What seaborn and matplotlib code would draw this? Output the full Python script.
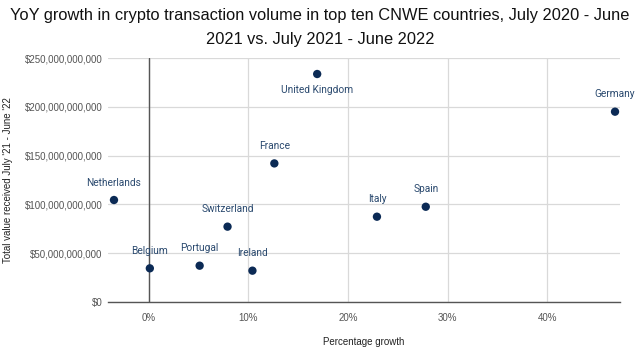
import matplotlib
matplotlib.use("Agg")
import matplotlib.pyplot as plt
import matplotlib.ticker as mticker
import seaborn as sns
import pandas as pd

countries = ["Netherlands", "Belgium", "Portugal", "Switzerland", "Ireland",
             "France", "United Kingdom", "Italy", "Spain", "Germany"]
growth = [-3.5, 0.1, 5.1, 7.9, 10.4, 12.6, 16.9, 22.9, 27.8, 46.8]
value_b = [104.5, 34.5, 37.2, 77.2, 32.1, 142.0, 233.6, 87.4, 97.6, 195.0]
label_below = ["United Kingdom"]

df = pd.DataFrame({"country": countries, "growth": growth,
                   "value": [v * 1e9 for v in value_b]})

sns.set_theme(style="white")
plt.rcParams['font.family'] = ['Liberation Sans', 'DejaVu Sans']

fig = plt.figure(figsize=(6.4, 3.49), dpi=100)
ax = fig.add_axes([108/640, (349-302)/349, (620-108)/640, (302-58)/349])

ax.set_xlim(-4.1, 47.3)
ax.set_ylim(0, 250e9)
ax.set_xticks([0, 10, 20, 30, 40])
ax.set_yticks([0, 50e9, 100e9, 150e9, 200e9, 250e9])
ax.grid(True, color="#d9d9d9", linewidth=0.9)
ax.set_axisbelow(True)
for s in ["top", "right", "left"]:
    ax.spines[s].set_visible(False)
ax.spines["bottom"].set_color("#555555")
ax.spines["bottom"].set_linewidth(1.0)
ax.axvline(0, color="#555555", linewidth=1.0, zorder=1)

sns.scatterplot(data=df, x="growth", y="value", ax=ax, color="#0b2a55",
                s=36, edgecolor="none", zorder=3, legend=False)

for c, gx, v in zip(countries, growth, df["value"]):
    if c in label_below:
        ax.annotate(c, (gx, v), xytext=(0, -8), textcoords="offset points",
                    ha="center", va="top", fontsize=7.3, color="#2b4a6f",
                    family=["Roboto", "DejaVu Sans"])
    else:
        ax.annotate(c, (gx, v), xytext=(0, 9), textcoords="offset points",
                    ha="center", va="bottom", fontsize=7.3, color="#2b4a6f",
                    family=["Roboto", "DejaVu Sans"])

ax.xaxis.set_major_formatter(mticker.FuncFormatter(lambda x, p: f"{x:.0f}%"))
ax.yaxis.set_major_formatter(mticker.FuncFormatter(lambda y, p: f"${y:,.0f}"))
ax.tick_params(axis="x", length=0, labelsize=7, labelcolor="#555555", pad=8)
ax.tick_params(axis="y", length=0, labelsize=7, labelcolor="#555555", pad=4)

ax.set_xlabel("Percentage growth", fontsize=7, color="#222222", labelpad=10)
ax.set_ylabel("Total value received July '21 - June '22", fontsize=7,
              color="#222222")
ax.yaxis.set_label_coords(-0.185, 0.5)

fig.suptitle("YoY growth in crypto transaction volume in top ten CNWE countries, July 2020 - June\n2021 vs. July 2021 - June 2022",
             fontsize=11.8, color="#111111", y=0.978, linespacing=1.75)

fig.savefig("out.png", dpi=100)
